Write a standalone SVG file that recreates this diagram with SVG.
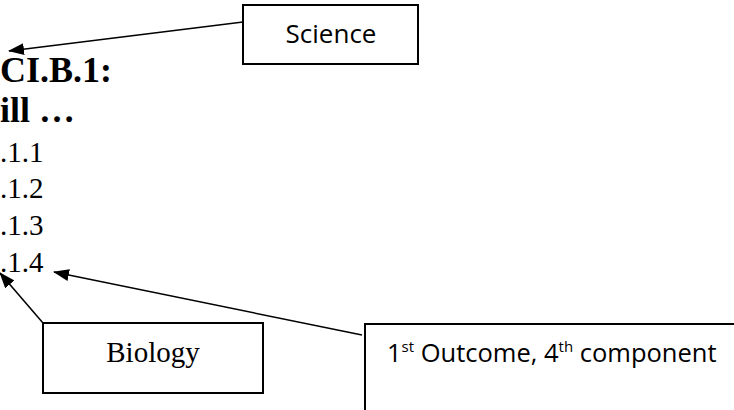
<svg xmlns="http://www.w3.org/2000/svg" width="734" height="410" viewBox="0 0 734 410">
<style>
.box{fill:#fff;stroke:#000;stroke-width:2}
.conn{stroke:#000;stroke-width:1.5;fill:none}
.sans{font-family:"Open Sans","Liberation Sans",sans-serif;fill:#000}
.serif{font-family:"Liberation Serif","Times New Roman",serif;fill:#000}
.num{font-size:29px}
</style>
<defs>
<marker id="arr" markerUnits="userSpaceOnUse" markerWidth="16" markerHeight="12" viewBox="0 0 16 12" refX="15" refY="6" orient="auto">
<path d="M0,0 L16,6 L0,12 z" fill="#000"/>
</marker>
</defs>
<rect width="734" height="410" fill="#fff"/>
<g id="main-text">
<text class="serif" x="0" y="82" font-size="36" font-weight="bold">CI.B.1:</text>
<text class="serif" x="0" y="122" font-size="36" font-weight="bold">ill …</text>
<text class="serif num" x="0" y="162">.1.1</text>
<text class="serif num" x="0" y="198">.1.2</text>
<text class="serif num" x="0" y="235">.1.3</text>
<text class="serif num" x="0" y="272">.1.4</text>
</g>
<g id="connectors">
<line class="conn" x1="243" y1="22" x2="9" y2="51" marker-end="url(#arr)"/>
<line class="conn" x1="43" y1="323" x2="0" y2="273" marker-end="url(#arr)"/>
<line class="conn" x1="362" y1="335" x2="54" y2="272" marker-end="url(#arr)"/>
</g>
<g id="science">
<rect class="box" x="243" y="5" width="175" height="59"/>
<text class="sans" x="331" y="43" font-size="26" text-anchor="middle">Science</text>
</g>
<g id="biology">
<rect class="box" x="43" y="323" width="220" height="70"/>
<text class="serif" x="153" y="362" font-size="29" text-anchor="middle">Biology</text>
</g>
<g id="outcome">
<rect class="box" x="365" y="324" width="400" height="120"/>
<text class="sans" x="387" y="362" font-size="25.5">1<tspan font-size="15" dy="-10">st</tspan><tspan dy="10"> Outcome, 4</tspan><tspan font-size="15" dy="-10">th</tspan><tspan dy="10"> component</tspan></text>
</g>
</svg>
